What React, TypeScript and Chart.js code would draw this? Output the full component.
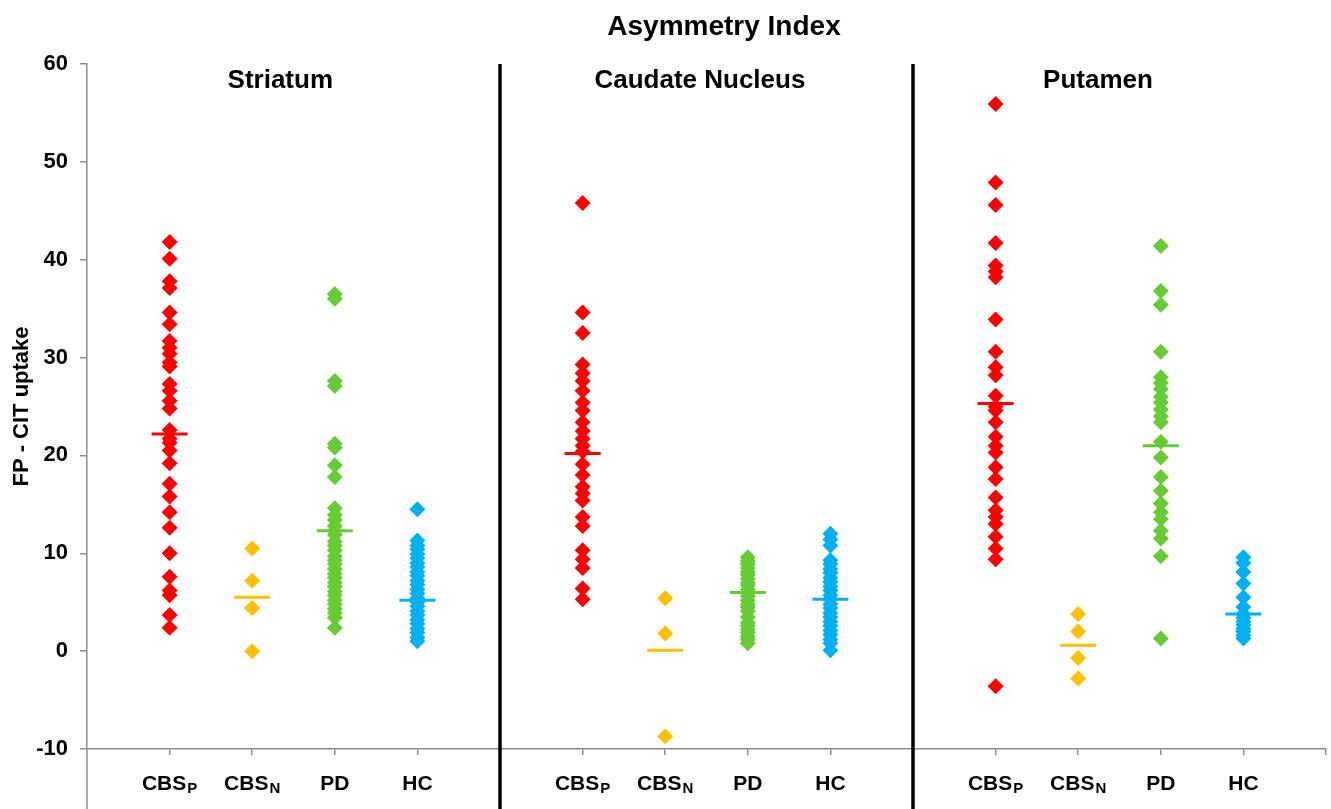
import { useEffect, useRef } from 'react';
import { Chart, registerables } from 'chart.js';

Chart.register(...registerables);

const chartTitle = 'Asymmetry Index';
const yAxisTitle = 'FP - CIT uptake';
const regions = ['Striatum', 'Caudate Nucleus', 'Putamen'];
const groupKeys = ['CBSP', 'CBSN', 'PD', 'HC'];
const groupMain = ['CBS', 'CBS', 'PD', 'HC'];
const groupSub = ['P', 'N', '', ''];
const groupColors = ['#FF0000', '#FFC000', '#66CC33', '#00B0F0'];
const yTickValues = [-10, 0, 10, 20, 30, 40, 50, 60];

// Striatum
const striatumCBSP = [41.8, 40.1, 37.8, 37.1, 34.6, 33.4, 31.7, 31.0, 30.4, 29.5, 29.1, 27.3, 26.6, 25.6, 24.8, 22.6, 21.7, 21.3, 20.5, 19.2, 17.1, 15.8, 14.2, 12.6, 10.0, 7.6, 6.2, 5.7, 3.7, 2.4];
const striatumCBSN = [10.5, 7.2, 4.4, 0.0];
const striatumPD = [36.5, 36.0, 27.6, 27.1, 21.2, 20.8, 19.0, 17.8, 14.6, 13.9, 13.4, 12.8, 12.3, 11.9, 11.2, 10.8, 10.3, 9.7, 9.3, 8.9, 8.4, 7.9, 7.5, 7.0, 6.6, 6.1, 5.7, 5.2, 4.8, 4.3, 3.9, 3.4, 2.4];
const striatumHC = [14.5, 11.3, 10.8, 10.4, 9.9, 9.5, 9.0, 8.6, 8.1, 7.7, 7.2, 6.8, 6.3, 5.9, 5.4, 5.0, 4.6, 4.1, 3.7, 3.2, 2.8, 2.3, 1.9, 1.4, 1.0];
const striatumMeans = [22.2, 5.5, 12.3, 5.2];

// Caudate Nucleus
const caudateCBSP = [45.8, 34.6, 32.5, 29.3, 28.4, 27.6, 26.6, 25.4, 24.6, 23.4, 22.5, 21.7, 21.0, 20.4, 19.1, 18.0, 16.8, 16.1, 15.4, 13.7, 12.8, 10.3, 9.4, 8.5, 6.4, 5.3];
const caudateCBSN = [5.4, 1.8, -8.7];
const caudatePD = [9.6, 9.2, 8.9, 8.5, 8.1, 7.8, 7.4, 7.0, 6.7, 6.3, 5.9, 5.6, 5.2, 4.8, 4.5, 4.1, 3.5, 2.9, 2.6, 2.2, 1.9, 1.5, 1.2, 0.8];
const caudateHC = [12.0, 11.4, 10.8, 9.3, 8.9, 8.4, 8.0, 7.5, 7.1, 6.6, 6.2, 5.7, 5.3, 4.8, 4.4, 3.9, 3.5, 3.0, 2.6, 2.1, 1.7, 1.2, 0.8, 0.1];
const caudateMeans = [20.2, 0.1, 6.0, 5.3];

// Putamen
const putamenCBSP = [55.9, 47.9, 45.6, 41.7, 39.4, 38.8, 38.2, 33.9, 30.6, 29.0, 28.2, 26.1, 25.0, 24.6, 23.4, 21.9, 21.0, 20.3, 18.8, 17.6, 15.7, 14.4, 13.7, 13.0, 11.7, 10.5, 9.4, -3.6];
const putamenCBSN = [3.8, 2.0, -0.7, -2.8];
const putamenPD = [41.4, 36.8, 35.4, 30.6, 28.0, 27.4, 26.8, 26.0, 25.4, 24.7, 24.0, 23.4, 21.4, 19.8, 17.8, 16.4, 15.1, 14.2, 13.5, 12.3, 11.5, 9.7, 1.3];
const putamenHC = [9.6, 9.0, 8.1, 6.9, 5.5, 4.5, 3.8, 3.4, 3.0, 2.7, 2.3, 2.0, 1.6, 1.3];
const putamenMeans = [25.3, 0.6, 21.0, 3.8];

const regionSeries = [
  [striatumCBSP, striatumCBSN, striatumPD, striatumHC],
  [caudateCBSP, caudateCBSN, caudatePD, caudateHC],
  [putamenCBSP, putamenCBSN, putamenPD, putamenHC],
];
const regionMeans = [striatumMeans, caudateMeans, putamenMeans];

const FONT = '"Liberation Sans", Arial, Helvetica, sans-serif';
const SLOTS = 5;
const W = 1331;
const H = 809;
const posOf = (r: number, g: number) => r * SLOTS + g + 1;

export default function App() {
  const ref = useRef<HTMLCanvasElement | null>(null);

  useEffect(() => {
    if (!ref.current) return;

    const pointSets = groupKeys.map((key, g) => ({
      type: 'scatter' as const,
      label: key,
      data: regionSeries.flatMap((series, r) => series[g].map((v) => ({ x: posOf(r, g), y: v }))),
      pointStyle: 'rectRot',
      pointRadius: 8,
      pointHoverRadius: 8,
      pointBorderWidth: 0,
      backgroundColor: groupColors[g],
      borderColor: groupColors[g],
      showLine: false,
      order: 2,
    }));

    const meanSets = groupKeys.map((key, g) => ({
      type: 'scatter' as const,
      label: key + ' mean',
      data: regionMeans.map((m, r) => ({ x: posOf(r, g), y: m[g] })),
      pointStyle: 'line',
      pointRadius: 18,
      pointHoverRadius: 18,
      pointBorderWidth: 3,
      backgroundColor: groupColors[g],
      borderColor: groupColors[g],
      showLine: false,
      order: 1,
    }));

    const decor = {
      id: 'decor',
      afterDraw(chart: any) {
        const { ctx, chartArea, scales } = chart;
        const xs = scales.x;
        const CH = chart.height;
        ctx.save();
        // extend y axis below x axis
        ctx.strokeStyle = '#8c8c8c';
        ctx.lineWidth = 1.5;
        ctx.beginPath();
        ctx.moveTo(chartArea.left, chartArea.bottom);
        ctx.lineTo(chartArea.left, CH);
        ctx.stroke();
        // panel dividers
        ctx.strokeStyle = '#000';
        ctx.lineWidth = 3.5;
        for (let r = 1; r < regions.length; r++) {
          const px = xs.getPixelForValue(r * SLOTS);
          ctx.beginPath();
          ctx.moveTo(px, chartArea.top);
          ctx.lineTo(px, CH);
          ctx.stroke();
        }
        // category labels with subscripts
        ctx.fillStyle = '#000';
        ctx.textBaseline = 'alphabetic';
        ctx.textAlign = 'left';
        const mainFont = `bold 21px ${FONT}`;
        const subFont = `bold 15px ${FONT}`;
        const baseY = chartArea.bottom + 41;
        for (let r = 0; r < regions.length; r++) {
          for (let g = 0; g < groupKeys.length; g++) {
            const cx = xs.getPixelForValue(posOf(r, g));
            ctx.font = mainFont;
            const w1 = ctx.measureText(groupMain[g]).width;
            ctx.font = subFont;
            const w2 = groupSub[g] ? ctx.measureText(groupSub[g]).width + 1 : 0;
            const start = cx - (w1 + w2) / 2;
            ctx.font = mainFont;
            ctx.fillText(groupMain[g], start, baseY);
            if (groupSub[g]) {
              ctx.font = subFont;
              ctx.fillText(groupSub[g], start + w1 + 1, baseY + 3);
            }
          }
        }
        // titles
        ctx.textAlign = 'center';
        ctx.textBaseline = 'middle';
        ctx.font = `bold 28px ${FONT}`;
        ctx.fillText(chartTitle, 724, 27);
        const titleOffsets = [-0.16, -0.08, -0.26];
        ctx.font = `bold 26px ${FONT}`;
        regions.forEach((name, r) => {
          const px = xs.getPixelForValue(r * SLOTS + SLOTS / 2 + titleOffsets[r]);
          ctx.fillText(name, px, chartArea.top + 17);
        });
        ctx.restore();
      },
    };

    const chart = new Chart(ref.current, {
      type: 'scatter',
      data: { datasets: [...meanSets, ...pointSets] as any },
      options: {
        animation: false,
        responsive: false,
        maintainAspectRatio: false,
        devicePixelRatio: 1,
        events: [],
        layout: { autoPadding: false, padding: { left: 0, right: 5, top: 64, bottom: 0 } },
        plugins: {
          legend: { display: false },
          tooltip: { enabled: false },
          title: { display: false },
        },
        scales: {
          x: {
            type: 'linear',
            min: 0,
            max: regions.length * SLOTS,
            afterBuildTicks: (scale: any) => {
              const t: { value: number }[] = [];
              for (let v = 1; v <= regions.length * SLOTS; v++) t.push({ value: v });
              scale.ticks = t;
            },
            afterFit: (scale: any) => {
              scale.height = 60;
              scale.paddingLeft = 0;
              scale.paddingRight = 0;
            },
            ticks: { autoSkip: false, display: false },
            grid: { drawOnChartArea: false, drawTicks: true, tickLength: 6, color: '#8c8c8c', lineWidth: 1.5 },
            border: { display: true, color: '#8c8c8c', width: 1.5 },
          },
          y: {
            type: 'linear',
            min: -10,
            max: 60,
            afterBuildTicks: (scale: any) => {
              scale.ticks = yTickValues.map((v) => ({ value: v }));
            },
            afterFit: (scale: any) => {
              scale.width = 87;
            },
            ticks: {
              autoSkip: false,
              padding: 12,
              color: '#000',
              font: { family: FONT, size: 22, weight: 'bold' },
            },
            title: {
              display: true,
              text: yAxisTitle,
              color: '#000',
              font: { family: FONT, size: 22, weight: 'bold' },
              padding: { top: 9, bottom: 0 },
            },
            grid: { drawOnChartArea: false, drawTicks: true, tickLength: 7, color: '#8c8c8c', lineWidth: 1.5 },
            border: { display: true, color: '#8c8c8c', width: 1.5 },
          },
        },
      } as any,
      plugins: [decor],
    });

    return () => chart.destroy();
  }, []);

  return (
    <div style={{ position: 'fixed', left: 0, top: 0, width: W, height: H, background: '#fff', overflow: 'hidden' }}>
      <canvas ref={ref} width={W} height={H} style={{ display: 'block', width: W, height: H }} />
    </div>
  );
}
